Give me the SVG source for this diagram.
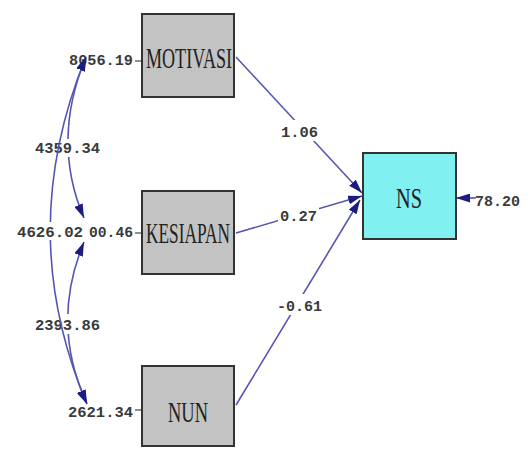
<svg xmlns="http://www.w3.org/2000/svg" width="529" height="449" viewBox="0 0 529 449">
  <style>
    .box { fill: #c3c3c3; stroke: #333; stroke-width: 2; }
    .endo { fill: #80f0f0; stroke: #333; stroke-width: 2; }
    .name { font-family: "Liberation Serif", "DejaVu Serif", serif; fill: #222; font-size: 29px; }
    .num { font-family: "Liberation Mono", "DejaVu Sans Mono", monospace; font-size: 15px; font-weight: bold; fill: #3a3a3a; }
    .gap { fill: #fff; }
    .edge { fill: none; stroke: #5656b0; stroke-width: 1.6; }
    .tick { stroke: #444; stroke-width: 1.2; }
  </style>
  <defs>
    <marker id="head" viewBox="0 0 14 9" refX="14" refY="4.5" markerWidth="14" markerHeight="9" markerUnits="userSpaceOnUse" orient="auto-start-reverse">
      <path d="M0,0 L14,4.5 L0,9 z" fill="#1c1c80"/>
    </marker>
  </defs>

  <rect width="529" height="449" fill="#fff"/>

  <!-- variance labels of the exogenous variables -->
  <g id="variances">
    <text class="num" x="69" y="65" textLength="64" lengthAdjust="spacingAndGlyphs">8056.19</text>
    <line class="tick" x1="135" y1="61" x2="142" y2="61"/>
    <text class="num" x="89" y="237" textLength="44" lengthAdjust="spacingAndGlyphs">00.46</text>
    <line class="tick" x1="135" y1="233" x2="142" y2="233"/>
    <text class="num" x="68" y="417" textLength="65" lengthAdjust="spacingAndGlyphs">2621.34</text>
    <line class="tick" x1="135" y1="410" x2="142" y2="410"/>
  </g>

  <g id="connectors">
    <!-- structural paths into NS -->
    <line class="edge" x1="236" y1="57" x2="362" y2="193" marker-end="url(#head)"/>
    <line class="edge" x1="236" y1="233" x2="362" y2="196" marker-end="url(#head)"/>
    <line class="edge" x1="236" y1="405" x2="360" y2="200" marker-end="url(#head)"/>
    <line class="edge" x1="476" y1="198" x2="456" y2="198" marker-end="url(#head)"/>
    <rect class="gap" x="279" y="120" width="41" height="21"/>
    <text class="num" x="281" y="137" textLength="37" lengthAdjust="spacingAndGlyphs">1.06</text>
    <rect class="gap" x="278" y="208" width="41" height="16"/>
    <text class="num" x="280" y="221" textLength="37" lengthAdjust="spacingAndGlyphs">0.27</text>
    <rect class="gap" x="275" y="294" width="49" height="21"/>
    <text class="num" x="277" y="311" textLength="45" lengthAdjust="spacingAndGlyphs">-0.61</text>

    <!-- covariances between exogenous variables -->
    <path class="edge" d="M86,57 Q51,141 84,218" marker-start="url(#head)" marker-end="url(#head)"/>
    <path class="edge" d="M84,242 Q50,324 87,404" marker-start="url(#head)" marker-end="url(#head)"/>
    <rect class="gap" x="58" y="139" width="44" height="18"/>
    <text class="num" x="35" y="153" textLength="65" lengthAdjust="spacingAndGlyphs">4359.34</text>
    <rect class="gap" x="58" y="314" width="44" height="20"/>
    <text class="num" x="35" y="330" textLength="65" lengthAdjust="spacingAndGlyphs">2393.86</text>
    <path class="edge" d="M86,57 Q14,232 87,404" marker-start="url(#head)" marker-end="url(#head)"/>
    <rect class="gap" x="16" y="222" width="70" height="18"/>
    <text class="num" x="17" y="237" textLength="66" lengthAdjust="spacingAndGlyphs">4626.02</text>
  </g>

  <g id="motivasi">
    <rect class="box" x="142" y="14" width="92" height="83"/>
    <text class="name" x="146" y="68" textLength="86" lengthAdjust="spacingAndGlyphs">MOTIVASI</text>
  </g>
  <g id="kesiapan">
    <rect class="box" x="142" y="191" width="92" height="83"/>
    <text class="name" x="146" y="243" textLength="84" lengthAdjust="spacingAndGlyphs">KESIAPAN</text>
  </g>
  <g id="nun">
    <rect class="box" x="142" y="366" width="92" height="80"/>
    <text class="name" x="168" y="422" textLength="40" lengthAdjust="spacingAndGlyphs">NUN</text>
  </g>
  <g id="ns">
    <rect class="endo" x="363" y="153" width="93" height="86"/>
    <text class="name" x="396" y="208" font-size="27" textLength="26" lengthAdjust="spacingAndGlyphs">NS</text>
  </g>
  <g id="ns-error">
    <text class="num" x="475" y="206" textLength="45" lengthAdjust="spacingAndGlyphs">78.20</text>
  </g>
</svg>
